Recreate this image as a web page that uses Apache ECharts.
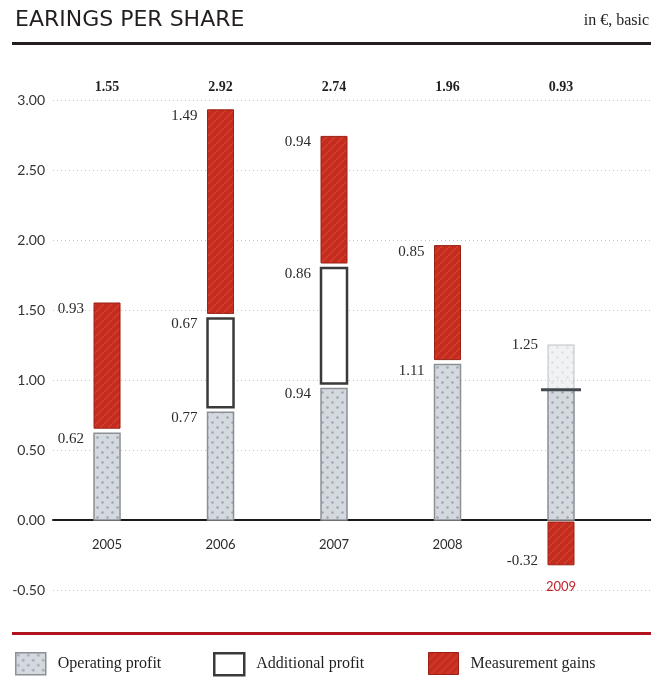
<!DOCTYPE html>
<html>
<head>
<meta charset="utf-8">
<script src="https://cdn.jsdelivr.net/npm/echarts@6/dist/echarts.min.js"></script>
<style>
  html, body { margin: 0; padding: 0; background: #fff; }
  #chart { width: 651px; height: 686px; }
</style>
</head>
<body>
<div id="chart"></div>
<script>
// Earnings per share, in €, basic
const years = ['2005', '2006', '2007', '2008', '2009'];
const operatingProfit = [0.62, 0.77, 0.94, 1.11, 1.25];
const additionalProfit = [0, 0.67, 0.86, 0, 0];
const measurementGains = [0.93, 1.49, 0.94, 0.85, -0.32];
const totals = [1.55, 2.92, 2.74, 1.96, 0.93];

const SANS = 'Lato, "Open Sans", sans-serif';
const TITLE_FONT = '"DejaVu Sans", "Open Sans", sans-serif';
const SERIF = '"Liberation Serif", "DejaVu Serif", serif';
const BAR_W = 26;
const GAP = 5;

// Fill textures for the bars
function makePattern(size, draw) {
  const c = document.createElement('canvas');
  c.width = size; c.height = size;
  draw(c.getContext('2d'), size);
  return c;
}
const dotTexture = makePattern(10, (g, s) => {
  g.fillStyle = '#d4d9e0'; g.fillRect(0, 0, s, s);
  g.fillStyle = '#a0a6ae';
  g.beginPath(); g.arc(2.5, 2.5, 1.3, 0, Math.PI * 2); g.fill();
  g.beginPath(); g.arc(7.5, 7.5, 1.3, 0, Math.PI * 2); g.fill();
});
const redTexture = makePattern(8, (g, s) => {
  g.fillStyle = '#c42c1f'; g.fillRect(0, 0, s, s);
  g.strokeStyle = 'rgba(225,80,55,0.55)'; g.lineWidth = 1.5;
  g.beginPath(); g.moveTo(0, s); g.lineTo(s, 0); g.stroke();
});
const operatingFill = { image: dotTexture, repeat: 'repeat' };
const redFill = { image: redTexture, repeat: 'repeat' };

// Segment tables: [x, base, top, shownValue, faded]
const opData = [], addData = [], measData = [], totalData = [], yearData = [];
years.forEach((y, i) => {
  const x = i + 1;
  const op = operatingProfit[i];
  const tot = totals[i];
  if (tot < op) {
    opData.push([x, 0, tot, op, 0]);
    opData.push([x, tot, op, op, 1]);
  } else {
    opData.push([x, 0, op, op, 0]);
  }
  let base = op;
  if (additionalProfit[i] > 0) {
    addData.push([x, base, base + additionalProfit[i], additionalProfit[i], 0]);
    base += additionalProfit[i];
  }
  const m = measurementGains[i];
  if (m >= 0) measData.push([x, base, base + m, m, 0]);
  else measData.push([x, 0, m, m, 0]);
  totalData.push([x, tot]);
  yearData.push([x, Math.min(0, m), i]);
});

function segmentRenderer(kind) {
  return function (params, api) {
    const x = api.value(0), b = api.value(1), t = api.value(2);
    const v = api.value(3), faded = api.value(4) === 1;
    const pb = api.coord([x, b]);
    const pt = api.coord([x, t]);
    const left = pb[0] - BAR_W / 2;
    const children = [];
    const fmt = (n) => n.toFixed(2);
    if (t >= b) {
      let bottomPx = pb[1];
      if (b !== 0 && !faded) bottomPx -= GAP;
      const topPx = pt[1];
      let style;
      if (kind === 'op') style = { fill: operatingFill, stroke: '#8c8f94', lineWidth: 1.5, opacity: faded ? 0.35 : 1 };
      else if (kind === 'add') style = { fill: '#ffffff', stroke: '#3a3a3a', lineWidth: 2.5 };
      else style = { fill: redFill, stroke: '#9a2016', lineWidth: 1 };
      children.push({ type: 'rect', shape: { x: left, y: topPx, width: BAR_W, height: bottomPx - topPx }, style: style });
      if (kind !== 'op' || faded || (b === 0 && t === v)) {
        children.push({
          type: 'text',
          style: {
            text: fmt(v), x: left - 10, y: faded ? topPx : topPx + 6,
            align: 'right', verticalAlign: 'middle',
            font: '15px ' + SERIF, fill: '#2b2b2b'
          }
        });
      }
      if (faded) {
        // net result line inside the operating bar
        children.push({ type: 'rect', shape: { x: pb[0] - 20, y: pb[1] - 1.5, width: 40, height: 3 }, style: { fill: '#444a4f' } });
      }
    } else {
      const topPx = pb[1] + 2;
      const bottomPx = pt[1];
      children.push({ type: 'rect', shape: { x: left, y: topPx, width: BAR_W, height: bottomPx - topPx }, style: { fill: redFill, stroke: '#9a2016', lineWidth: 1 } });
      children.push({
        type: 'text',
        style: { text: fmt(v), x: left - 10, y: bottomPx - 4, align: 'right', verticalAlign: 'middle', font: '15px ' + SERIF, fill: '#2b2b2b' }
      });
    }
    return { type: 'group', children: children };
  };
}

const chart = echarts.init(document.getElementById('chart'), null, { renderer: 'canvas' });

const legendBase = {
  top: 652, padding: 0,
  itemWidth: 30, itemHeight: 22,
  selectedMode: false,
  textStyle: { fontFamily: SERIF, fontSize: 16, color: '#231f20', padding: [0, 0, 0, 7] }
};

chart.setOption({
  animation: false,
  backgroundColor: '#ffffff',
  title: [
    { text: 'EARINGS PER SHARE', left: 15, top: 9, padding: 0, textStyle: { fontFamily: TITLE_FONT, fontSize: 22, fontWeight: 'normal', color: '#231f20' } },
    { text: 'in €, basic', right: 2, top: 13, padding: 0, textStyle: { fontFamily: SERIF, fontSize: 16, fontWeight: 'normal', color: '#231f20' } }
  ],
  graphic: [
    { type: 'rect', left: 12, top: 42, shape: { width: 639, height: 3 }, style: { fill: '#231f20' } },
    { type: 'rect', left: 12, top: 632, shape: { width: 639, height: 3 }, style: { fill: '#b0131d' } }
  ],
  legend: [
    Object.assign({}, legendBase, { left: 15, data: [{ name: 'Operating profit', icon: 'rect', itemStyle: { color: operatingFill, borderColor: '#8c8f94', borderWidth: 1.5 } }] }),
    Object.assign({}, legendBase, { left: 213, data: [{ name: 'Additional profit', icon: 'rect', itemStyle: { color: '#ffffff', borderColor: '#3a3a3a', borderWidth: 2.5 } }] }),
    Object.assign({}, legendBase, { left: 428, data: [{ name: 'Measurement gains', icon: 'rect', itemStyle: { color: redFill, borderColor: '#9a2016', borderWidth: 1 } }] })
  ],
  grid: { left: 53, right: 0, top: 100, bottom: 96, containLabel: false },
  xAxis: {
    type: 'value', min: 0.524, max: 5.793,
    axisLine: { show: true, onZero: true, lineStyle: { color: '#1a1a1a', width: 2 } },
    axisTick: { show: false },
    splitLine: { show: false },
    axisLabel: { show: false }
  },
  yAxis: {
    type: 'value', min: -0.5, max: 3.0, interval: 0.5,
    axisLine: { show: false }, axisTick: { show: false },
    axisLabel: { margin: 8, fontFamily: SANS, fontSize: 14, color: '#333333', formatter: (v) => v.toFixed(2) },
    splitLine: { show: true, lineStyle: { color: '#c4c4c4', width: 1, type: [1, 3] } }
  },
  series: [
    { name: 'Operating profit', type: 'custom', renderItem: segmentRenderer('op'), data: opData, encode: { x: 0, y: [1, 2] }, itemStyle: { color: '#c8cdd3' } },
    { name: 'Additional profit', type: 'custom', renderItem: segmentRenderer('add'), data: addData, encode: { x: 0, y: [1, 2] }, itemStyle: { color: '#ffffff' } },
    { name: 'Measurement gains', type: 'custom', renderItem: segmentRenderer('meas'), data: measData, encode: { x: 0, y: [1, 2] }, itemStyle: { color: '#c42c1f' } },
    {
      name: 'Total', type: 'custom', data: totalData, encode: { x: 0, y: 1 },
      renderItem: function (params, api) {
        const p = api.coord([api.value(0), 3.0]);
        return {
          type: 'text',
          style: { text: api.value(1).toFixed(2), x: p[0], y: p[1] - 13, align: 'center', verticalAlign: 'middle', font: 'bold 14px ' + SERIF, fill: '#231f20' }
        };
      }
    },
    {
      // year captions below the zero line, or below a negative bar
      name: 'Year', type: 'custom', data: yearData, encode: { x: 0, y: 1 },
      renderItem: function (params, api) {
        const low = api.value(1);
        const idx = api.value(2);
        const p = api.coord([api.value(0), low]);
        return {
          type: 'text',
          style: {
            text: years[idx], x: p[0], y: p[1] + (low < 0 ? 22 : 25),
            align: 'center', verticalAlign: 'middle',
            font: '13px ' + SANS, fill: low < 0 ? '#c1222b' : '#2b2b2b'
          }
        };
      }
    }
  ]
});
</script>
</body>
</html>
